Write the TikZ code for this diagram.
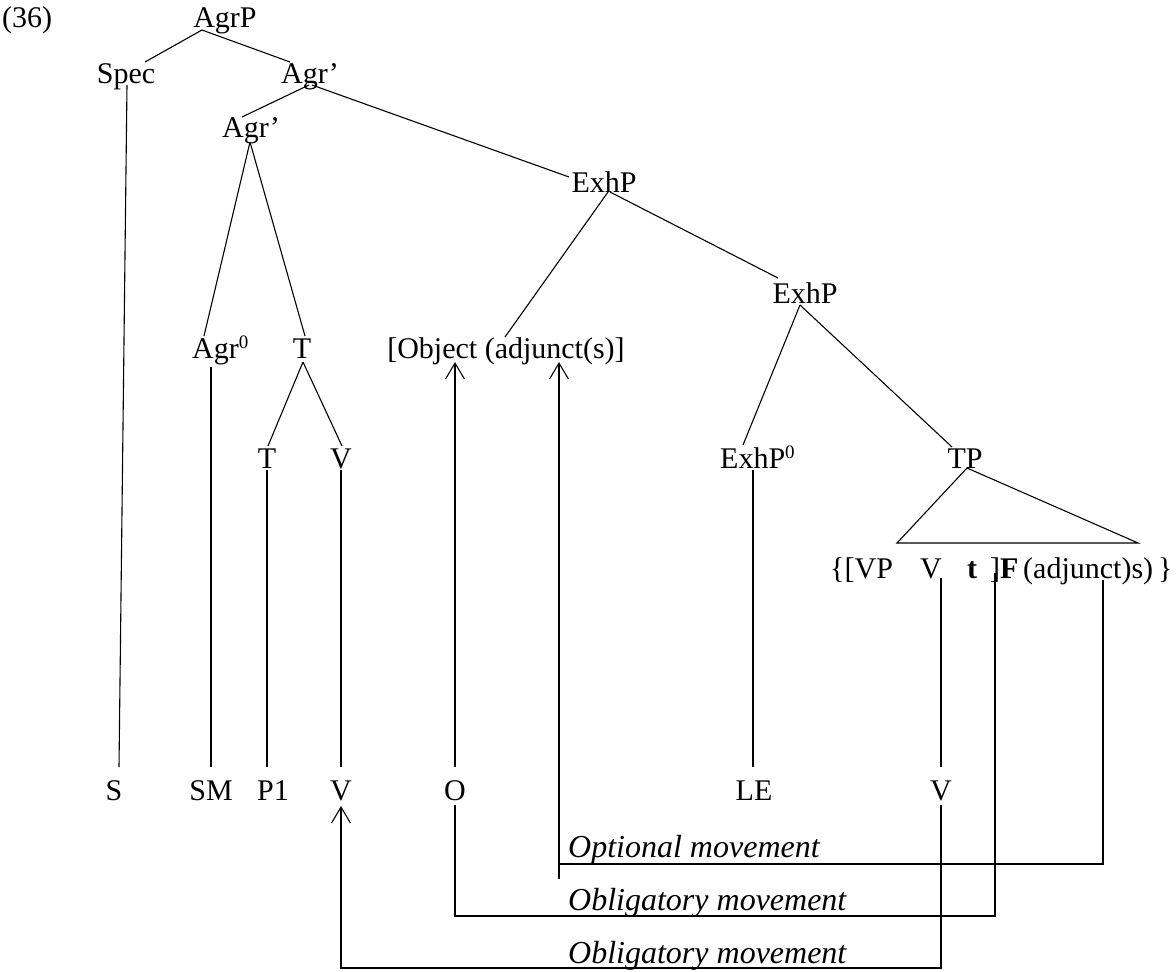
\documentclass[tikz,border=0pt]{standalone}
\usepackage{fontspec}
\setmainfont{Liberation Serif}
\usetikzlibrary{arrows.meta}
\begin{document}
\begin{tikzpicture}[x=1pt,y=-1pt,
  lab/.style={inner sep=0pt, anchor=base, font=\fontsize{30}{36}\selectfont},
  labw/.style={lab, anchor=base west},
  mv/.style={inner sep=0pt, anchor=base west, font=\fontsize{32}{38}\selectfont\itshape},
  edge/.style={line width=1.1pt},
  arr/.style={edge, -{Straight Barb[length=16pt,width=19pt,line width=1.1pt]}}
]
\useasboundingbox (0,0) rectangle (1176,972);

% example number
\node[labw] (num) at (2,27) {(36)};

% upper tree
\node[lab] (agrp) at (225,27) {AgrP};
\node[lab] (spec) at (126,83) {Spec};
\node[lab] (agra) at (310,83) {Agr’};
\node[lab] (agrb) at (251,137) {Agr’};
\node[lab] (exa) at (604,192) {ExhP};
\node[lab] (exb) at (805,303) {ExhP};
\node[labw] (agr0) at (192,358) {Agr\raisebox{10pt}{\fontsize{19}{19}\selectfont 0}};
\node[lab] (ta) at (302,358) {T};
\node[lab] (obj) at (506,358) {[Object (adjunct(s)]};
\node[lab] (tb) at (267,468) {T};
\node[lab] (va) at (341,468) {V};
\node[labw] (ex0) at (720,468) {ExhP\raisebox{10pt}{\fontsize{19}{19}\selectfont 0}};
\node[lab] (tp) at (965,468) {TP};

% contents of the TP triangle
\node[labw] (vpl) at (830,578) {\{[VP};
\node[labw] (vpv) at (920,578) {V};
\node[labw] (vpt) at (967,578) {\textbf{t}};
\node[labw] (vpf) at (990,578) {]\textbf{F}};
\node[labw] (vpa) at (1023,578) {(adjunct)s)\hspace{5pt}\}};

% surface string
\node[lab] (s)   at (114,800) {S};
\node[lab] (sm)  at (211,800) {SM};
\node[lab] (p1)  at (273,800) {P1};
\node[lab] (v1b) at (341,800) {V};
\node[lab] (o)   at (455,800) {O};
\node[lab] (le)  at (754,800) {LE};
\node[lab] (v2)  at (941,800) {V};

% movement labels
\node[mv] (opt) at (568,857) {Optional movement};
\node[mv] (ob1) at (568,910) {Obligatory movement};
\node[mv] (ob2) at (568,963) {Obligatory movement};

% branches
\draw[edge] ([shift={(-23,3)}]agrp.base) -- ([shift={(19,-21)}]spec.base);
\draw[edge] ([shift={(-23,3)}]agrp.base) -- ([shift={(-20,-21)}]agra.base);
\draw[edge] ([shift={(-1,2)}]agra.base) -- ([shift={(-9,-20)}]agrb.base);
\draw[edge] ([shift={(2,2)}]agra.base) -- ([shift={(-35,-15)}]exa.base);
\draw[edge] ([shift={(-1,5)}]agrb.base) -- ([shift={(12,-22)}]agr0.base west);
\draw[edge] ([shift={(-1,5)}]agrb.base) -- ([shift={(3,-22)}]ta.base);
\draw[edge] ([shift={(1,4)}]ta.base) -- ([shift={(1,-22)}]tb.base);
\draw[edge] ([shift={(1,4)}]ta.base) -- ([shift={(1,-22)}]va.base);
\draw[edge] ([shift={(4,0)}]exa.base) -- ([shift={(-1,-21)}]obj.base);
\draw[edge] ([shift={(6,0)}]exa.base) -- ([shift={(-27,-25)}]exb.base);
\draw[edge] ([shift={(-5,2)}]exb.base) -- ([shift={(23,-23)}]ex0.base west);
\draw[edge] ([shift={(-5,2)}]exb.base) -- ([shift={(-13,-21)}]tp.base);
\draw[edge] ([shift={(2,0)}]tp.base) -- ++(-70,75) -- ++(241,0) -- cycle;

% links down to the surface string
\draw[edge] ([shift={(1,2)}]spec.base) -- ([shift={(5,-33)}]s.base);
\draw[edge] ([shift={(19,9)}]agr0.base west) -- ([shift={(0,-33)}]sm.base);
\draw[edge] ([shift={(0,2)}]tb.base) -- ([shift={(-6,-33)}]p1.base);
\draw[edge] ([shift={(0,2)}]va.base) -- ([shift={(0,-33)}]v1b.base);
\draw[edge] ([shift={(33,2)}]ex0.base west) -- ([shift={(-1,-33)}]le.base);
\draw[edge] ([shift={(21,0)}]vpv.base west) -- ([shift={(0,-33)}]v2.base);

% movement paths
\draw[arr] ([shift={(0,-33)}]o.base) -- ([shift={(-51,4)}]obj.base);
\draw[edge] ([shift={(80,2)}]vpa.base west) |- ([shift={(-9,7)}]opt.base west);
\draw[arr] ([shift={(-9,22)}]opt.base west) -- ([shift={(53,4)}]obj.base);
\draw[edge] ([shift={(5,-5)}]vpf.base west) |- ([shift={(0,6)}]ob1.base west) -| ([shift={(0,5)}]o.base);
\draw[arr] ([shift={(0,5)}]v2.base) |- ([shift={(0,5)}]ob2.base west) -| ([shift={(0,6)}]v1b.base);
\end{tikzpicture}
\end{document}
